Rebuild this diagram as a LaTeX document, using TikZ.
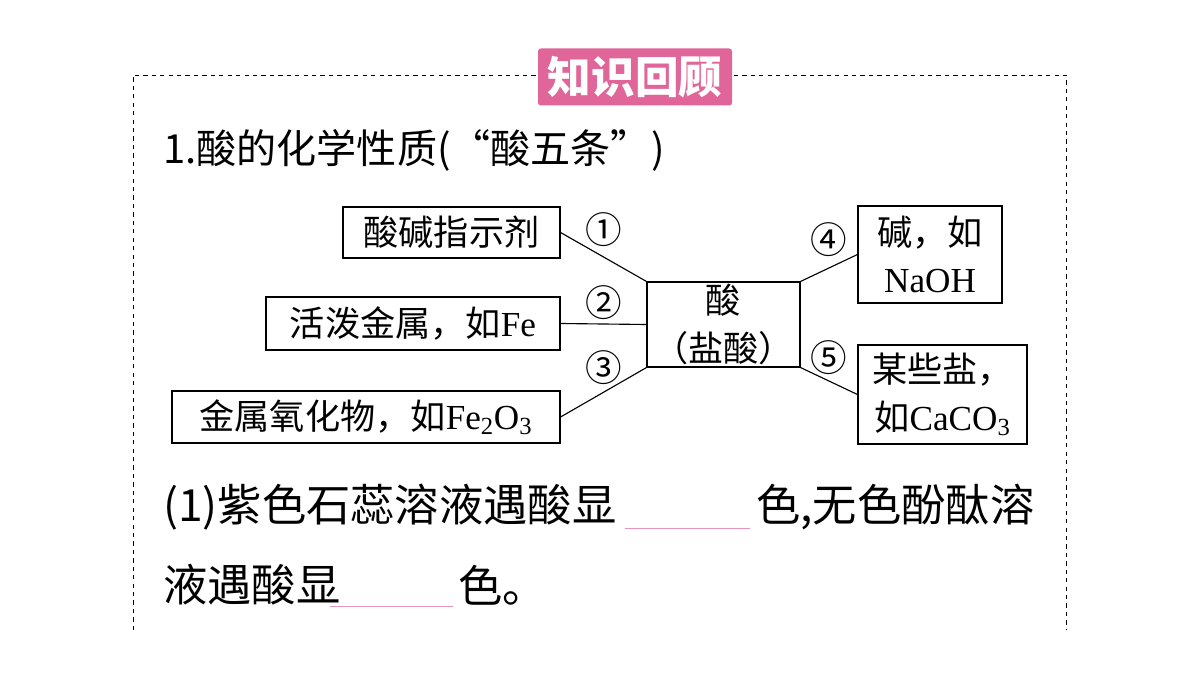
\documentclass[tikz,border=0pt]{standalone}
\usepackage{fontspec}
\setmainfont{Liberation Serif}
\newfontfamily\cjk{Noto Sans CJK SC}
\usetikzlibrary{positioning}
\definecolor{tagpink}{HTML}{E06699}
\begin{document}
\begin{tikzpicture}[
  x=0.025cm, y=-0.025cm,
  box/.style={draw, line width=0.8pt, inner sep=0pt, font=\fontsize{25}{34}\selectfont\cjk, align=center},
  num/.style={font=\fontsize{26}{26}\selectfont\cjk, inner sep=0pt},
  body/.style={font=\fontsize{31.5}{34}\selectfont\cjk, anchor=west, inner sep=0pt},
  blank/.style={draw=tagpink!70, line width=0.6pt}
]
\useasboundingbox (0,0) rectangle (1200,675);
% frame
\draw[dashed, line width=0.7pt] (133,630) -- (133,75) -- (1066,75) -- (1066,630);
\node[fill=tagpink, rounded corners=2pt, minimum width=194*0.025cm, minimum height=57*0.025cm,
  text=white, font=\fontsize{31}{31}\selectfont\cjk\bfseries] (tag) at (635,77) {知识回顾};
\node[body, font=\fontsize{28.5}{30}\selectfont\cjk] (title) at (163,150) {1.酸的化学性质(“酸五条”)};
% boxes
\node[box, minimum width=217*0.025cm, minimum height=51*0.025cm] (b1) at (451.5,232.5) {酸碱指示剂};
\node[box, minimum width=294*0.025cm, minimum height=53*0.025cm] (b2) at (413,323.5) {活泼金属，如{\rmfamily Fe}};
\node[box, minimum width=388*0.025cm, minimum height=52*0.025cm] (b3) at (366,417) {金属氧化物，如{\rmfamily Fe\textsubscript{2}O\textsubscript{3}}};
\node[box, minimum width=153*0.025cm, minimum height=85*0.025cm] (acid) at (723.5,324.5) {酸\\（盐酸）};
\node[box, minimum width=144*0.025cm, minimum height=97*0.025cm] (b4) at (930,254.5) {碱，如\\{\rmfamily NaOH}};
\node[box, minimum width=169*0.025cm, minimum height=99*0.025cm] (b5) at (942.5,394.5) {某些盐，\\如{\rmfamily CaCO\textsubscript{3}}};
% connectors
\draw[line width=0.8pt] (b1.east) -- (acid.north west);
\draw[line width=0.8pt] (b2.east) -- (acid.west);
\draw[line width=0.8pt] (b3.east) -- (acid.south west);
\draw[line width=0.8pt] (acid.north east) -- (b4.west);
\draw[line width=0.8pt] (acid.south east) -- (b5.west);
\node[num] (n1) at (604,230) {①};
\node[num] (n2) at (604,303) {②};
\node[num] (n3) at (604,368) {③};
\node[num] (n4) at (829,240) {④};
\node[num] (n5) at (829,358) {⑤};
% question
\node[body] (q1a) at (163,507) {(1)紫色石蕊溶液遇酸显};
\coordinate (l1a) at (625,528);
\coordinate (l1b) at (750,528);
\draw[blank] (l1a) -- (l1b);
\node[body] (q1b) at (756,507) {色,无色酚酞溶};
\node[body] (q2a) at (163,585) {液遇酸显};
\coordinate (l2a) at (330,606);
\coordinate (l2b) at (453,606);
\draw[blank] (l2a) -- (l2b);
\node[body] (q2b) at (458,585) {色。};
\end{tikzpicture}
\end{document}
